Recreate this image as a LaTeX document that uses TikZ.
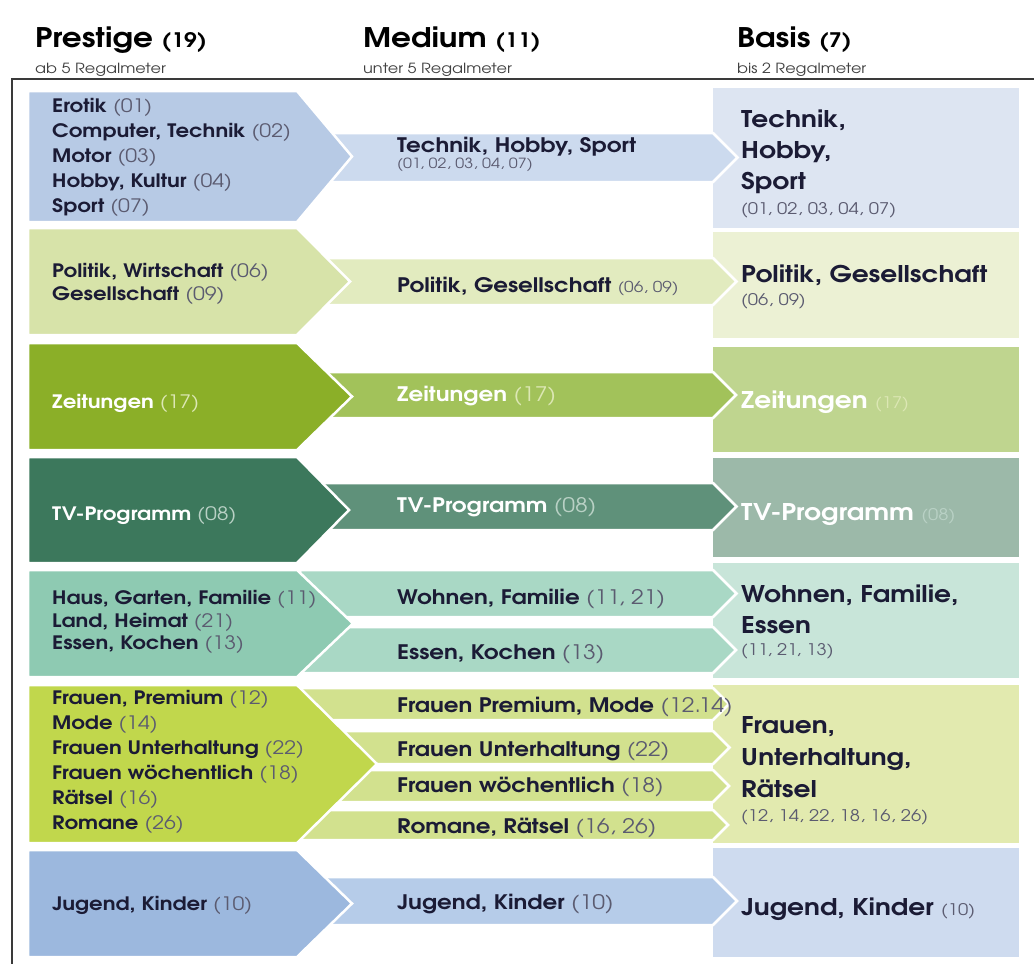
\documentclass[tikz,border=0pt]{standalone}
\usepackage{fontspec}
\setmainfont[FakeStretch=1.15]{TeX Gyre Adventor}
\usetikzlibrary{positioning}

\definecolor{ink}{HTML}{1B1B35}
\definecolor{numgray}{HTML}{5B5B70}
\definecolor{frame}{HTML}{3A3A3A}
% one colour per column and row: prestige / medium / basis
\definecolor{preTech}{HTML}{B7CAE5}
\definecolor{medTech}{HTML}{CCDAEE}
\definecolor{basTech}{HTML}{DDE5F2}
\definecolor{prePol}{HTML}{D7E3A9}
\definecolor{medPol}{HTML}{E2EBBF}
\definecolor{basPol}{HTML}{ECF1D4}
\definecolor{preZeit}{HTML}{8BAF28}
\definecolor{medZeit}{HTML}{A2C25A}
\definecolor{basZeit}{HTML}{BFD58F}
\definecolor{preTV}{HTML}{3C785C}
\definecolor{medTV}{HTML}{5F917A}
\definecolor{basTV}{HTML}{9CB9A9}
\definecolor{preWohn}{HTML}{8ECAB2}
\definecolor{medWohn}{HTML}{A9D8C5}
\definecolor{basWohn}{HTML}{C8E5D9}
\definecolor{preFrau}{HTML}{C1D74C}
\definecolor{medFrau}{HTML}{D2E18E}
\definecolor{basFrau}{HTML}{E2EAAF}
\definecolor{preJug}{HTML}{9CB8DE}
\definecolor{medJug}{HTML}{B6CCE9}
\definecolor{basJug}{HTML}{CEDBEF}
\definecolor{zeitNum}{HTML}{DCE7B4}
\definecolor{tvNum}{HTML}{B9D1C5}

\newcommand{\numtag}[2][numgray]{{\mdseries\color{#1}(#2)}}

\tikzset{
    gap/.style={draw=white, line width=2.5pt, line join=miter},
    headline/.style={anchor=base west, inner sep=0pt, text=black,
        font=\fontsize{27}{28}\selectfont\bfseries},
    subline/.style={anchor=base west, inner sep=0pt, text=black!75,
        font=\fontsize{14}{15}\selectfont},
    pretext/.style={anchor=west, align=left, inner sep=0pt, text=ink,
        font=\fontsize{18.5}{25}\selectfont\bfseries},
    medtext/.style={anchor=base west, align=left, inner sep=0pt, text=ink,
        font=\fontsize{20}{20}\selectfont\bfseries},
    bastext/.style={anchor=west, align=left, inner sep=0pt, text=ink,
        font=\fontsize{23}{31}\selectfont\bfseries},
}

\begin{document}
\begin{tikzpicture}[x=1pt, y=-1pt]
    \useasboundingbox[fill=white] (0,0) rectangle (1034,964);

    % Column heads
    \node[headline] (hPre) at (35,47) {Prestige {\fontsize{20}{21}\selectfont(19)}};
    \node[subline] (sPre) at (35,73) {ab 5 Regalmeter};
    \node[headline] (hMed) at (363,47) {Medium {\fontsize{20}{21}\selectfont(11)}};
    \node[subline] (sMed) at (363,73) {unter 5 Regalmeter};
    \node[headline] (hBas) at (737,47) {Basis {\fontsize{20}{21}\selectfont(7)}};
    \node[subline] (sBas) at (737,73) {bis 2 Regalmeter};

    % Frame
    \draw[frame, line width=1.8pt] (12,964) -- (12,79) -- (1034,79);

    % Basis boxes
    \foreach \t/\b/\c in {88/228/basTech, 232/338/basPol, 347/452/basZeit,
            458/557/basTV, 563/678/basWohn, 685/843/basFrau, 848/957/basJug}
        \fill[\c] (713,\t) rectangle (1019,\b);

    % Medium strips, tip reaching into the basis box
    \foreach \t/\b/\c in {133/182/medTech, 258/305/medPol, 372/418/medZeit,
            483/530/medTV, 570/617/medWohn, 627/673/medWohn,
            688/720/medFrau, 731/764/medFrau, 770/802/medFrau, 810/840/medFrau,
            877/925/medJug}
        \filldraw[gap, fill=\c] (300,\t) -- (713,\t) -- ({713+(\b-\t)/2},{(\t+\b)/2})
            -- (713,\b) -- (300,\b) -- cycle;

    % Prestige chevrons
    \foreach \t/\b/\tip/\c in {91/222/352/preTech, 228/335/350/prePol,
            343/450/352/preZeit, 457/563/349/preTV, 570/677/353/preWohn,
            685/843/377/preFrau, 850/957/352/preJug}
        \filldraw[gap, fill=\c] (28,\t) -- (297,\t) -- (\tip,{(\t+\b)/2})
            -- (297,\b) -- (28,\b) -- cycle;

    % Technik, Hobby, Sport
    \node[pretext] (pTech) at (52,157) {Erotik \numtag{01}\\Computer, Technik \numtag{02}\\
        Motor \numtag{03}\\Hobby, Kultur \numtag{04}\\Sport \numtag{07}};
    \node[medtext, anchor=west, font=\fontsize{20}{16}\selectfont\bfseries] (mTech) at (397,154)
        {Technik, Hobby, Sport\\{\fontsize{14}{15}\selectfont\numtag{01, 02, 03, 04, 07}}};
    \node[bastext] (bTech) at (741,164) {Technik,\\Hobby,\\Sport\\[-6pt]
        {\fontsize{16}{17}\selectfont\numtag{01, 02, 03, 04, 07}}};

    % Politik, Gesellschaft
    \node[pretext, font=\fontsize{18.5}{23}\selectfont\bfseries] (pPol) at (52,284)
        {Politik, Wirtschaft \numtag{06}\\Gesellschaft \numtag{09}};
    \node[medtext] (mPol) at (397,292)
        {Politik, Gesellschaft {\fontsize{15}{16}\selectfont\numtag{06, 09}}};
    \node[bastext] (bPol) at (741,287)
        {Politik, Gesellschaft\\[-8pt]{\fontsize{16}{17}\selectfont\numtag{06, 09}}};

    % Zeitungen
    \node[pretext, text=white] (pZeit) at (52,403) {Zeitungen \numtag[zeitNum]{17}};
    \node[medtext, text=white] (mZeit) at (397,401) {Zeitungen \numtag[zeitNum]{17}};
    \node[medtext, text=white, font=\fontsize{23}{25}\selectfont\bfseries] (bZeit) at (741,408)
        {Zeitungen {\fontsize{16}{17}\selectfont\numtag[zeitNum]{17}}};

    % TV-Programm
    \node[pretext, text=white] (pTV) at (52,516) {TV-Programm \numtag[tvNum]{08}};
    \node[medtext, text=white] (mTV) at (397,512) {TV-Programm \numtag[tvNum]{08}};
    \node[medtext, text=white, font=\fontsize{23}{25}\selectfont\bfseries] (bTV) at (741,520)
        {TV-Programm {\fontsize{16}{17}\selectfont\numtag[tvNum]{08}}};

    % Wohnen, Familie, Essen
    \node[pretext, font=\fontsize{18.5}{22.5}\selectfont\bfseries] (pWohn) at (52,622)
        {Haus, Garten, Familie \numtag{11}\\Land, Heimat \numtag{21}\\Essen, Kochen \numtag{13}};
    \node[medtext] (mWohn) at (397,604) {Wohnen, Familie \numtag{11, 21}};
    \node[medtext] (mEssen) at (397,659) {Essen, Kochen \numtag{13}};
    \node[bastext] (bWohn) at (741,622) {Wohnen, Familie,\\Essen\\[-9pt]
        {\fontsize{16}{17}\selectfont\numtag{11, 21, 13}}};

    % Frauen, Unterhaltung, Raetsel
    \node[pretext] (pFrau) at (52,762) {Frauen, Premium \numtag{12}\\Mode \numtag{14}\\
        Frauen Unterhaltung \numtag{22}\\Frauen w\"ochentlich \numtag{18}\\
        R\"atsel \numtag{16}\\Romane \numtag{26}};
    \node[medtext] (mPrem) at (397,712) {Frauen Premium, Mode \numtag{12.14}};
    \node[medtext] (mUnt) at (397,756) {Frauen Unterhaltung \numtag{22}};
    \node[medtext] (mWoch) at (397,792) {Frauen w\"ochentlich \numtag{18}};
    \node[medtext] (mRom) at (397,833) {Romane, R\"atsel \numtag{16, 26}};
    \node[bastext, font=\fontsize{23}{32}\selectfont\bfseries] (bFrau) at (741,771)
        {Frauen,\\Unterhaltung,\\R\"atsel\\[-8pt]
        {\fontsize{16}{17}\selectfont\numtag{12, 14, 22, 18, 16, 26}}};

    % Jugend, Kinder
    \node[pretext] (pJug) at (52,905) {Jugend, Kinder \numtag{10}};
    \node[medtext] (mJug) at (397,909) {Jugend, Kinder \numtag{10}};
    \node[medtext, font=\fontsize{23}{25}\selectfont\bfseries] (bJug) at (741,915)
        {Jugend, Kinder {\fontsize{16}{17}\selectfont\numtag{10}}};
\end{tikzpicture}
\end{document}
